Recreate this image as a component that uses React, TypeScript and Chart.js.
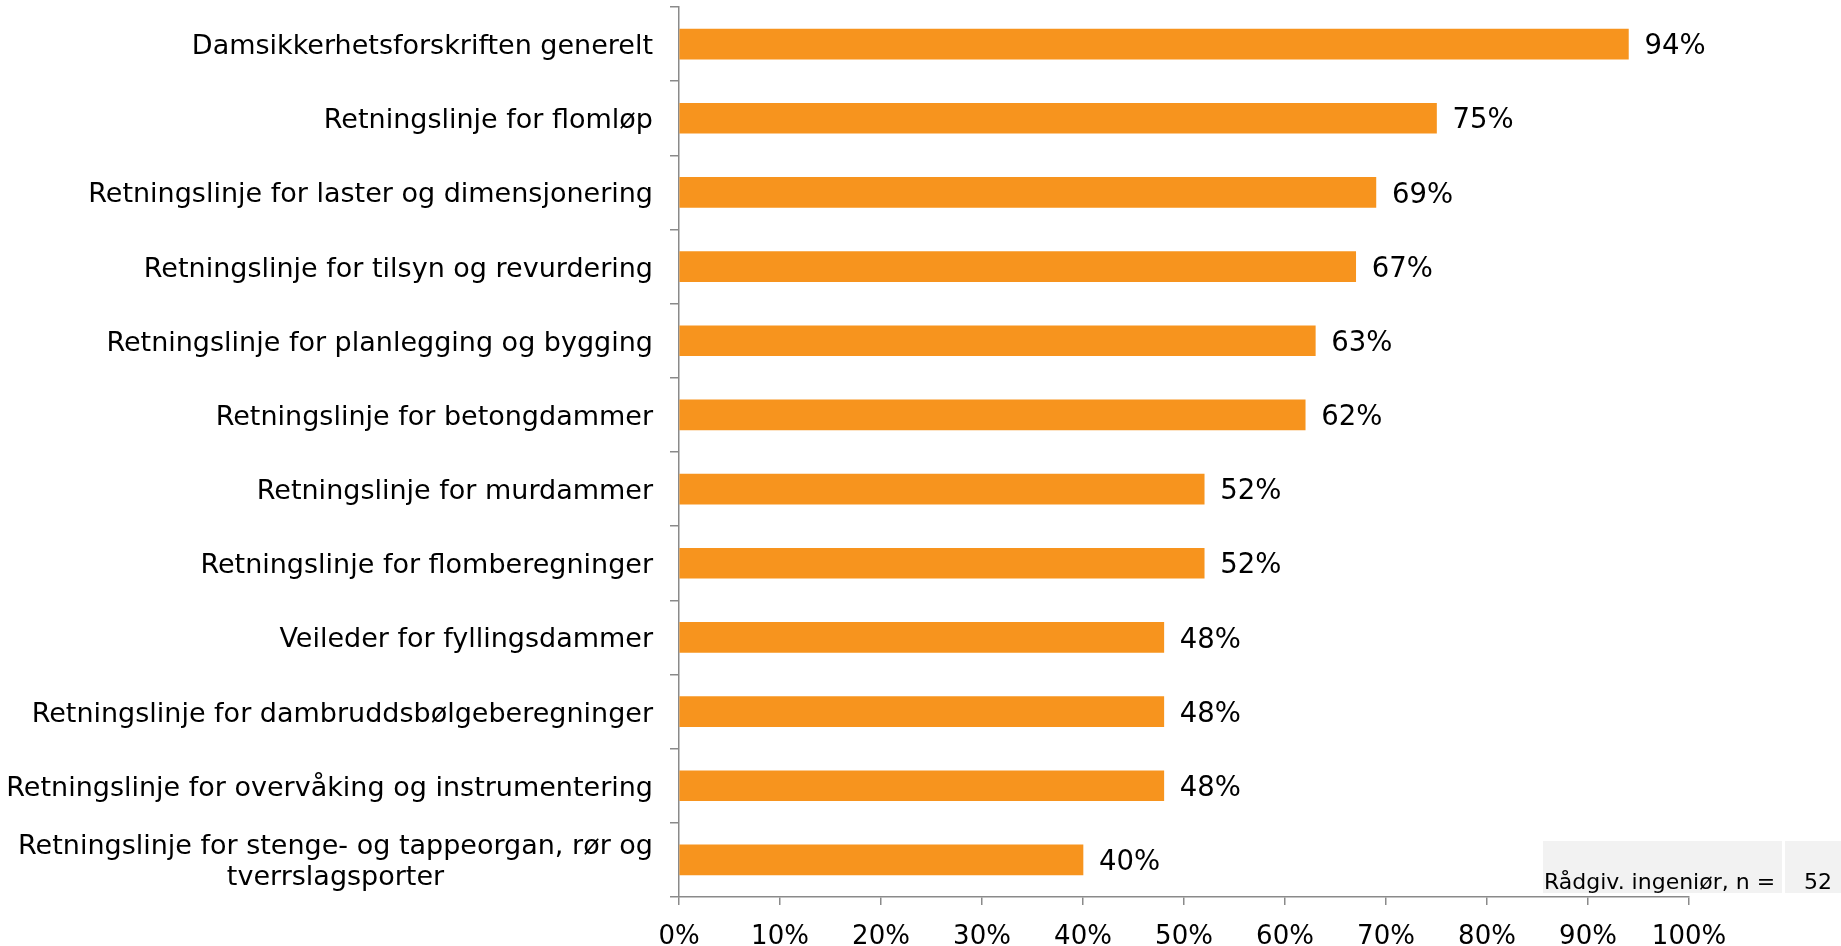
import { useEffect, useRef } from "react";
import { Chart, registerables } from "chart.js";

Chart.register(...registerables);

const categories: (string | string[])[] = [
  "Damsikkerhetsforskriften generelt",
  "Retningslinje for flomløp",
  "Retningslinje for laster og dimensjonering",
  "Retningslinje for tilsyn og revurdering",
  "Retningslinje for planlegging og bygging",
  "Retningslinje for betongdammer",
  "Retningslinje for murdammer",
  "Retningslinje for flomberegninger",
  "Veileder for fyllingsdammer",
  "Retningslinje for dambruddsbølgeberegninger",
  "Retningslinje for overvåking og instrumentering",
  ["Retningslinje for stenge- og tappeorgan, rør og", "tverrslagsporter"],
];

const values = [94, 75, 69, 67, 63, 62, 52, 52, 48, 48, 48, 40];

const xMin = 0;
const xMax = 100;
const xStep = 10;

const legendLabel = "Rådgiv. ingeniør, n =";
const legendN = "52";

const FONT = "DejaVu Sans";
const AXIS_COLOR = "#8a8a8a";
const BAR_COLOR = "#F7941E";

export default function App() {
  const ref = useRef<HTMLCanvasElement>(null);

  useEffect(() => {
    if (!ref.current) return;

    const labelPlugin = {
      id: "customLabels",
      afterDraw(chart: any) {
        const ctx = chart.ctx;
        const y = chart.scales.y;
        const meta = chart.getDatasetMeta(0);
        ctx.save();
        ctx.fillStyle = "#000";
        ctx.font = `27px "${FONT}"`;
        ctx.textBaseline = "middle";
        // category labels
        categories.forEach((lab, i) => {
          const cy = y.getPixelForTick(i) + 3;
          const lines = Array.isArray(lab) ? lab : [lab];
          const lh = 31;
          const widths = lines.map((l) => ctx.measureText(l).width);
          const maxW = Math.max(...widths);
          const right = chart.chartArea.left - 26;
          lines.forEach((l, j) => {
            const ly = cy + (j - (lines.length - 1) / 2) * lh;
            ctx.textAlign = "center";
            ctx.fillText(l, right - maxW / 2, ly);
          });
        });
        // data labels
        ctx.font = `27.5px "${FONT}"`;
        ctx.textAlign = "left";
        meta.data.forEach((bar: any, i: number) => {
          ctx.fillText(values[i] + "%", bar.x + 16, bar.y + 3);
        });
        // legend box
        ctx.fillStyle = "#f2f2f2";
        ctx.fillRect(1543, 841, 239, 52);
        ctx.fillRect(1785, 841, 56, 52);
        ctx.fillStyle = "#000";
        ctx.font = `22px "${FONT}"`;
        ctx.textBaseline = "alphabetic";
        ctx.textAlign = "left";
        ctx.fillText(legendLabel, 1544, 889);
        ctx.fillText(legendN, 1804, 889);
        ctx.restore();
      },
    };

    const chart = new Chart(ref.current, {
      type: "bar",
      data: {
        labels: categories as any,
        datasets: [
          {
            data: values,
            backgroundColor: BAR_COLOR,
            borderWidth: 0,
            barThickness: 30,
          },
        ],
      },
      options: {
        indexAxis: "y",
        animation: false,
        responsive: false,
        maintainAspectRatio: false,
        layout: { padding: { top: 7, right: 152, left: 0, bottom: 0 } },
        plugins: {
          legend: { display: false },
          tooltip: { enabled: false },
        },
        scales: {
          y: {
            type: "category",
            offset: true,
            afterFit(scale: any) {
              scale.width = 679;
            },
            border: { display: true, color: AXIS_COLOR, width: 1.5 },
            grid: {
              display: true,
              offset: true,
              drawOnChartArea: false,
              drawTicks: true,
              tickLength: 9,
              color: AXIS_COLOR,
              lineWidth: 1.5,
            },
            ticks: { display: false },
          },
          x: {
            type: "linear",
            min: xMin,
            max: xMax,
            afterFit(scale: any) {
              scale.height = 49;
            },
            border: { display: true, color: AXIS_COLOR, width: 1.5 },
            grid: {
              display: true,
              drawOnChartArea: false,
              drawTicks: true,
              tickLength: 8,
              color: AXIS_COLOR,
              lineWidth: 1.5,
            },
            ticks: {
              stepSize: xStep,
              autoSkip: false,
              maxRotation: 0,
              padding: 17,
              color: "#000",
              font: { family: FONT, size: 26 },
              callback: (v: any) => v + "%",
            },
          },
        },
      },
      plugins: [labelPlugin],
    });

    return () => chart.destroy();
  }, []);

  return (
    <div style={{ position: "fixed", left: 0, top: 0, width: 1841, height: 946, background: "#fff" }}>
      <canvas ref={ref} width={1841} height={946} style={{ display: "block" }} />
    </div>
  );
}
